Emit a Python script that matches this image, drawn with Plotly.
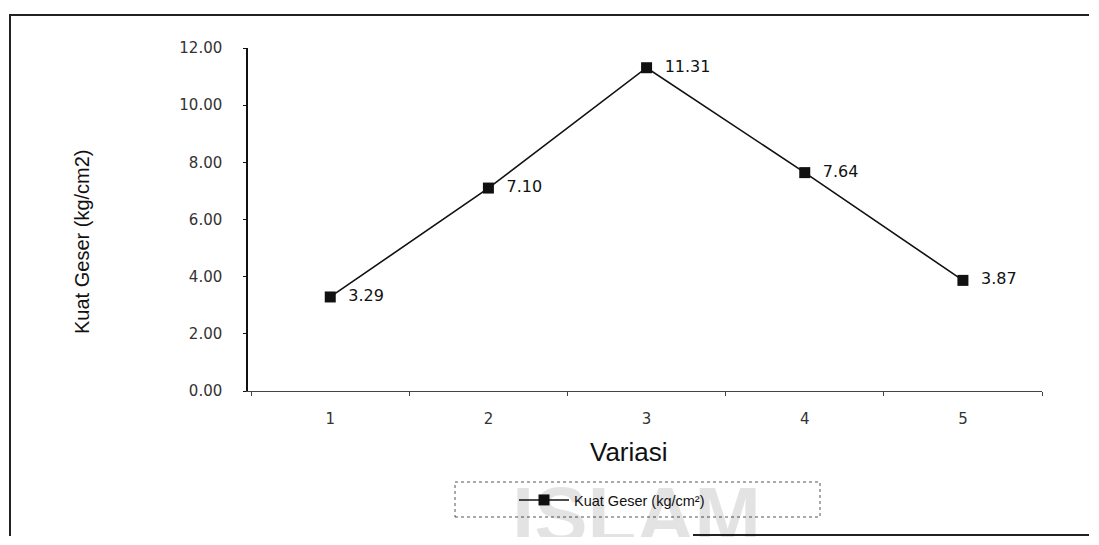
import plotly.graph_objects as go

categories = ["1", "2", "3", "4", "5"]
kuat_geser = [3.29, 7.10, 11.31, 7.64, 3.87]
value_labels = ["3.29", "7.10", "11.31", "7.64", "3.87"]
y_ticks = [0, 2, 4, 6, 8, 10, 12]
series_name = "Kuat Geser (kg/cm²)"
x_title = "Variasi"
y_title = "Kuat Geser (kg/cm2)"

# page has an 8px body margin on every side; size the figure so no scrollbar appears
OFF = 8
W, H = 1099 - 2 * OFF, 545 - 2 * OFF
# screen-pixel geometry of the plot area
SX0, SX1, SY0, SY1 = 248, 1042, 48, 391
L, R = SX0 - OFF, W - (SX1 - OFF)
T, B = SY0 - OFF, H - (SY1 - OFF)
PW, PH = W - L - R, H - T - B

def px(x):
    return (x - OFF - L) / PW

def py(y):
    return (H - B - (y - OFF)) / PH

RIGHT_EDGE = OFF + W - 2
frame_path = (f"M{px(10):.5f},{py(536):.5f} L{px(10):.5f},{py(15):.5f} "
              f"L{px(RIGHT_EDGE):.5f},{py(15):.5f}")

fig = go.Figure()
fig.add_trace(go.Scatter(
    x=categories, y=kuat_geser, mode="lines+markers+text",
    name=series_name,
    text=value_labels, texttemplate="  %{text}", textposition="middle right",
    textfont=dict(family="DejaVu Sans", size=16, color="#111"),
    line=dict(color="#111", width=1.6),
    marker=dict(symbol="square", size=11, color="#111"),
    cliponaxis=False,
))

fig.update_layout(
    width=W, height=H,
    margin=dict(l=L, r=R, t=T, b=B),
    paper_bgcolor="white", plot_bgcolor="white",
    showlegend=True,
    legend=dict(
        orientation="h", x=px(612), xanchor="center", y=py(500), yanchor="middle",
        font=dict(family="Liberation Sans", size=14.5, color="#111"),
        bgcolor="rgba(0,0,0,0)", itemwidth=50,
    ),
    xaxis=dict(
        type="category", range=[-0.52, 4.5], tickson="boundaries",
        showgrid=False, zeroline=False,
        showline=True, linecolor="#444", linewidth=1,
        ticks="outside", ticklen=4, tickcolor="#444",
        tickfont=dict(family="DejaVu Sans", size=15, color="#333"),
        ticklabelstandoff=14,
    ),
    yaxis=dict(
        range=[0, 12], tickvals=y_ticks, tickformat=".2f",
        showgrid=False, zeroline=False,
        showline=True, linecolor="#111", linewidth=1.5,
        ticks="outside", ticklen=3, tickcolor="#111",
        tickfont=dict(family="DejaVu Sans", size=15, color="#333"),
        ticklabelstandoff=18,
    ),
    annotations=[
        dict(text="<b>ISLAM</b>", x=px(636), y=py(469), xref="paper", yref="paper",
             showarrow=False, font=dict(family="Liberation Sans", size=80, color="rgba(0,0,0,0.11)"),
             xanchor="center", yanchor="top"),
        dict(text=x_title, x=px(629), y=py(452), xref="paper", yref="paper",
             showarrow=False, font=dict(family="Liberation Sans", size=26, color="#111"),
             xanchor="center", yanchor="middle"),
        dict(text=y_title, x=px(82), y=py(242), xref="paper", yref="paper",
             showarrow=False, textangle=-90,
             font=dict(family="Liberation Sans", size=20, color="#111"),
             xanchor="center", yanchor="middle"),
    ],
    shapes=[
        dict(type="rect", xref="paper", yref="paper",
             x0=px(455), x1=px(820), y0=py(517), y1=py(482),
             line=dict(color="#555", width=1, dash="dot")),
        dict(type="path", xref="paper", yref="paper", path=frame_path,
             fillcolor="rgba(0,0,0,0)", line=dict(color="#222", width=2)),
        dict(type="line", xref="paper", yref="paper",
             x0=px(693), x1=px(RIGHT_EDGE), y0=py(535), y1=py(535),
             line=dict(color="#222", width=2)),
    ],
)

fig.write_html("out.html")
